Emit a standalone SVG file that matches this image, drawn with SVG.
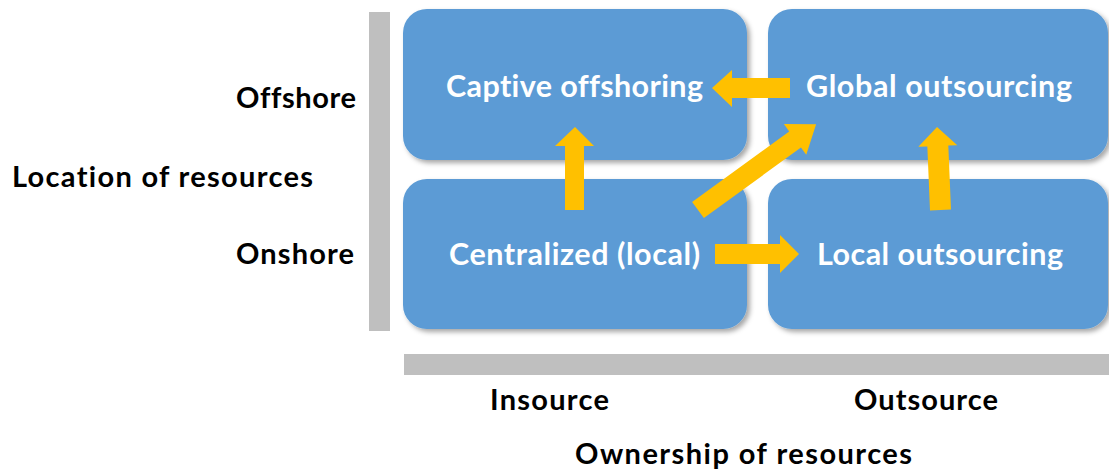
<svg xmlns="http://www.w3.org/2000/svg" width="1109" height="475" viewBox="0 0 1109 475">
<style>
.box{fill:#5B9BD5;filter:url(#sh)}
.bt{font-family:Lato,"Liberation Sans",sans-serif;font-weight:bold;font-size:30.5px;fill:#fff;font-variant-ligatures:none}
.lt{font-family:Lato,"Liberation Sans",sans-serif;font-weight:bold;font-size:29px;fill:#000;font-variant-ligatures:none}
.arr{fill:#FFC000}
.bar{fill:#BFBFBF}
</style>
<defs>
<filter id="sh" x="-10%" y="-10%" width="130%" height="130%">
<feDropShadow dx="3" dy="3" stdDeviation="2.5" flood-color="#000" flood-opacity="0.35"/>
</filter>
</defs>
<rect class="bar" x="369" y="12" width="21" height="319"/>
<rect class="bar" x="404" y="354" width="705" height="21"/>
<g id="captive"><rect class="box" x="403" y="9" width="344" height="151" rx="24"/><text class="bt" x="446" y="97" textLength="257" lengthAdjust="spacing">Captive offshoring</text></g>
<g id="global"><rect class="box" x="768" y="9" width="340" height="151" rx="24"/><text class="bt" x="806" y="97" textLength="266" lengthAdjust="spacing">Global outsourcing</text></g>
<g id="centralized"><rect class="box" x="403" y="179" width="344" height="150" rx="24"/><text class="bt" x="449" y="265" textLength="251" lengthAdjust="spacing">Centralized (local)</text></g>
<g id="local"><rect class="box" x="768" y="179" width="340" height="150" rx="24"/><text class="bt" x="817" y="265" textLength="246" lengthAdjust="spacing">Local outsourcing</text></g>
<g id="labels">
<text class="lt" x="236" y="108" textLength="120" lengthAdjust="spacing">Offshore</text>
<text class="lt" x="236" y="264" textLength="118" lengthAdjust="spacing">Onshore</text>
<text class="lt" x="12" y="187" textLength="301" lengthAdjust="spacing">Location of resources</text>
<text class="lt" x="490" y="410" textLength="119" lengthAdjust="spacing">Insource</text>
<text class="lt" x="854" y="410" textLength="144" lengthAdjust="spacing">Outsource</text>
<text class="lt" x="575" y="464" textLength="337" lengthAdjust="spacing">Ownership of resources</text>
</g>
<g id="connectors">
<polygon class="arr" points="790,78 732,78 732,70 712,88 732,107 732,98 790,98"/>
<polygon class="arr" points="565,210 565,146 555,146 575,127 594,146 584,146 584,210"/>
<polygon class="arr" points="715,244 780,244 780,235 799,254 780,273 780,264 715,264"/>
<g transform="translate(698,210) rotate(-36)"><polygon class="arr" points="0,-10 120,-10 120,-19 146,0 120,19 120,10 0,10"/></g>
<g transform="translate(940.5,210) rotate(-92.4)"><polygon class="arr" points="0,-10.5 64,-10.5 64,-19.5 83,0 64,19.5 64,10.5 0,10.5"/></g>
</g>
</svg>
